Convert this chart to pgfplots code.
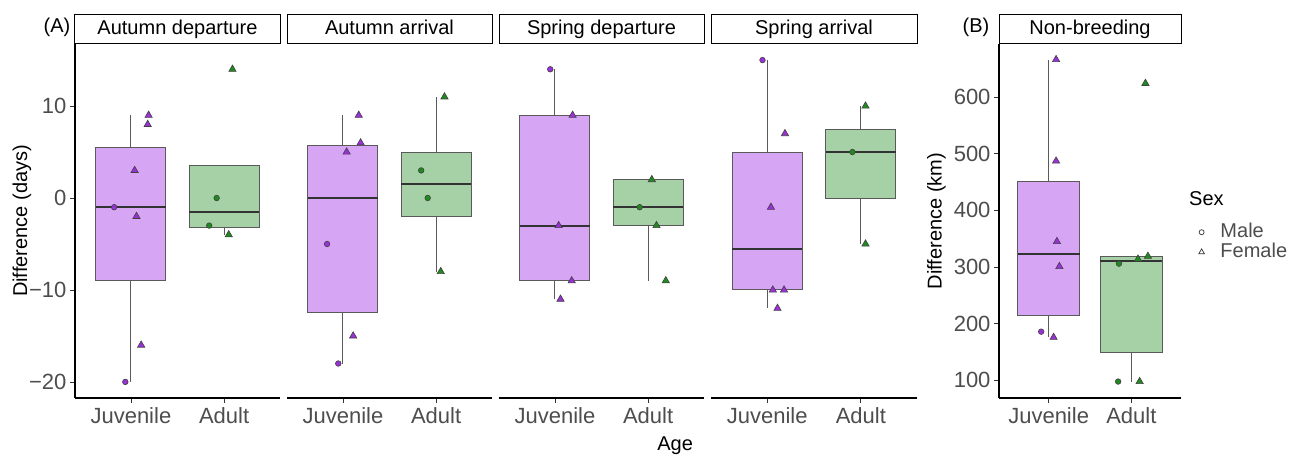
\documentclass[border=0pt]{standalone}
\usepackage{pgfplots}
\pgfplotsset{compat=1.18}
\usepgfplotslibrary{statistics}
\usepackage{fontspec}
\setmainfont{Liberation Sans}

\definecolor{juvfill}{HTML}{D6A6F5}
\definecolor{juvmark}{HTML}{9B30D9}
\definecolor{adfill}{HTML}{A6D1A6}
\definecolor{admark}{HTML}{1F8A1F}
\definecolor{tickgray}{HTML}{4D4D4D}
\definecolor{boxline}{HTML}{5A5A5A}
\definecolor{medline}{HTML}{333333}

\newcommand{\chartfont}{\fontsize{20}{24}\selectfont}
\newcommand{\tickfont}{\fontsize{22}{26}\selectfont}

\pgfplotsset{
  /pgf/number format/assume math mode=true,
  facet/.style={
    scale only axis, height=354pt, xmin=0.4, xmax=2.6,
    axis x line*=bottom, axis y line*=left,
    axis line style={-, line width=1.2pt, draw=black},
    xtick={1,2}, xticklabels={Juvenile,Adult},
    tick align=outside, major tick length=5pt,
    tick style={line width=0.8pt, draw=black!80},
    ticklabel style={font=\tickfont, text=tickgray},
    xticklabel style={yshift=-1pt},
    every axis title shift=0pt,
    title style={at={(0.5,1)}, anchor=south, draw=black, line width=1pt,
      inner sep=0pt, minimum height=28.5pt, font=\chartfont, text=black,
      text height=15pt, text depth=4.5pt},
    label style={font=\chartfont, text=black},
    clip=false,
    boxplot/draw direction=y,
    boxplot/box extend=0.75,
    boxplot/whisker extend=0,
    boxplot/every median/.style={draw=medline, line width=2pt},
    boxplot/every whisker/.style={draw=boxline, line width=1.1pt},
  },
  noyaxis/.style={y axis line style={draw=none}, ytick=\empty},
  juvbox/.style={draw=boxline, fill=juvfill, line width=1pt},
  adbox/.style={draw=boxline, fill=adfill, line width=1pt},
  juvcirc/.style={only marks, mark=*, mark size=2.8pt,
    mark options={fill=juvmark, draw=black!75, line width=0.6pt}},
  juvtri/.style={only marks, mark=triangle*, mark size=4.2pt,
    mark options={fill=juvmark, draw=black!75, line width=0.6pt}},
  adcirc/.style={only marks, mark=*, mark size=2.8pt,
    mark options={fill=admark, draw=black!75, line width=0.6pt}},
  adtri/.style={only marks, mark=triangle*, mark size=4.2pt,
    mark options={fill=admark, draw=black!75, line width=0.6pt}},
}

\begin{document}
\begin{tikzpicture}
\useasboundingbox (0,0) rectangle (1303pt,457pt);

% ---------- Autumn departure ----------
\begin{axis}[facet, at={(75pt,59pt)}, anchor=south west, width=205pt,
  ymin=-21.75, ymax=16.75, ytick={-20,-10,0,10},
  yticklabels={−20,−10,0,10},
  title={Autumn departure}, title style={minimum width=205pt},
  ylabel={Difference (days)},
  ylabel style={at={(axis description cs:-0.2585,0.5)}, anchor=center}]
\addplot[juvbox, boxplot prepared={draw position=1, lower whisker=-20,
  lower quartile=-9, median=-1, upper quartile=5.5, upper whisker=9}] coordinates {};
\addplot[adbox, boxplot prepared={draw position=2, lower whisker=-4,
  lower quartile=-3.25, median=-1.5, upper quartile=3.5, upper whisker=3.5}] coordinates {};
\addplot[juvcirc] coordinates {(0.82,-1) (0.94,-20)};
\addplot[juvtri] coordinates {(1.19,9) (1.18,8) (1.04,3) (1.06,-2) (1.11,-16)};
\addplot[adcirc] coordinates {(1.92,0) (1.84,-3)};
\addplot[adtri] coordinates {(2.05,-4) (2.09,14)};
\end{axis}

% ---------- Autumn arrival ----------
\begin{axis}[facet, noyaxis, at={(287pt,59pt)}, anchor=south west, width=205pt,
  ymin=-21.75, ymax=16.75,
  title={Autumn arrival}, title style={minimum width=205pt}]
\addplot[juvbox, boxplot prepared={draw position=1, lower whisker=-18,
  lower quartile=-12.5, median=0, upper quartile=5.75, upper whisker=9}] coordinates {};
\addplot[adbox, boxplot prepared={draw position=2, lower whisker=-8,
  lower quartile=-2, median=1.5, upper quartile=5, upper whisker=11}] coordinates {};
\addplot[juvcirc] coordinates {(0.83,-5) (0.95,-18)};
\addplot[juvtri] coordinates {(1.17,9) (1.19,6) (1.04,5) (1.11,-15)};
\addplot[adcirc] coordinates {(1.84,3) (1.91,0)};
\addplot[adtri] coordinates {(2.09,11) (2.05,-8)};
\end{axis}

% ---------- Spring departure ----------
\begin{axis}[facet, noyaxis, at={(499pt,59pt)}, anchor=south west, width=205pt,
  ymin=-21.75, ymax=16.75,
  title={Spring departure}, title style={minimum width=205pt},
  xlabel={Age},
  xlabel style={at={(axis description cs:0.859,-0.135)}, anchor=center}]
\addplot[juvbox, boxplot prepared={draw position=1, lower whisker=-11,
  lower quartile=-9, median=-3, upper quartile=9, upper whisker=14}] coordinates {};
\addplot[adbox, boxplot prepared={draw position=2, lower whisker=-9,
  lower quartile=-3, median=-1, upper quartile=2, upper whisker=2}] coordinates {};
\addplot[juvcirc] coordinates {(0.95,14)};
\addplot[juvtri] coordinates {(1.19,9) (1.04,-3) (1.18,-9) (1.06,-11)};
\addplot[adcirc] coordinates {(1.91,-1)};
\addplot[adtri] coordinates {(2.04,2) (2.09,-3) (2.19,-9)};
\end{axis}

% ---------- Spring arrival ----------
\begin{axis}[facet, noyaxis, at={(711pt,59pt)}, anchor=south west, width=206pt,
  ymin=-21.75, ymax=16.75,
  title={Spring arrival}, title style={minimum width=206pt}]
\addplot[juvbox, boxplot prepared={draw position=1, lower whisker=-12,
  lower quartile=-10, median=-5.5, upper quartile=5, upper whisker=15}] coordinates {};
\addplot[adbox, boxplot prepared={draw position=2, lower whisker=-5,
  lower quartile=0, median=5, upper quartile=7.5, upper whisker=10}] coordinates {};
\addplot[juvcirc] coordinates {(0.95,15)};
\addplot[juvtri] coordinates {(1.19,7) (1.04,-1) (1.06,-10) (1.18,-10) (1.11,-12)};
\addplot[adcirc] coordinates {(1.91,5)};
\addplot[adtri] coordinates {(2.05,10) (2.05,-5)};
\end{axis}

% ---------- Non-breeding distance ----------
\begin{axis}[facet, at={(999pt,59pt)}, anchor=south west, width=182pt,
  ymin=69, ymax=693.5, ytick={100,200,300,400,500,600},
  title={Non-breeding}, title style={minimum width=182pt},
  ylabel={Difference (km)},
  ylabel style={at={(axis description cs:-0.3434,0.5)}, anchor=center},
  legend style={at={(axis description cs:1.08,0.5)}, anchor=north west,
    draw=none, fill=none, font=\chartfont, text=tickgray,
    nodes={inner sep=0pt, text height=14pt, text depth=4pt},
    column sep=16pt, row sep=2pt},
  legend cell align=left,
  legend image code/.code={\draw[#1] plot coordinates {(6pt,0pt)};}]
\addlegendimage{only marks, mark=o, mark size=2.5pt, draw=black!80, line width=0.7pt}
\addlegendentry{Male}
\addlegendimage{only marks, mark=triangle, mark size=3.3pt, draw=black!80, line width=0.7pt}
\addlegendentry{Female}
\addplot[juvbox, boxplot prepared={draw position=1, lower whisker=176,
  lower quartile=214.75, median=323, upper quartile=451.5, upper whisker=666}] coordinates {};
\addplot[adbox, boxplot prepared={draw position=2, lower whisker=98,
  lower quartile=150, median=310, upper quartile=317.75, upper whisker=319}] coordinates {};
\addplot[juvcirc] coordinates {(0.91,186)};
\addplot[juvtri] coordinates {(1.09,666) (1.09,487) (1.10,345) (1.13,301) (1.06,176)};
\addplot[adcirc] coordinates {(1.85,306) (1.84,98)};
\addplot[adtri] coordinates {(2.17,624) (2.20,319) (2.08,314) (2.10,98)};
\end{axis}

% panel tags and legend heading
\node[font=\chartfont, anchor=center] at (57pt,430pt) {(A)};
\node[font=\chartfont, anchor=center] at (976pt,430pt) {(B)};
\node[font=\chartfont, anchor=west, inner sep=0pt] at (1189pt,258pt) {Sex};
\end{tikzpicture}
\end{document}
